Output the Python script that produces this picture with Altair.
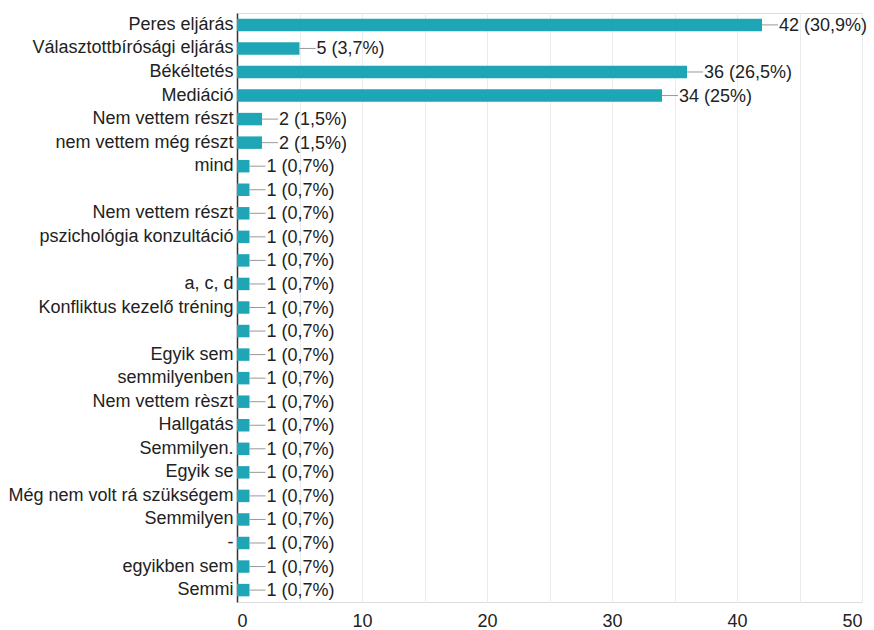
import json
import altair as alt
import pandas as pd

labels = [
    "Peres eljárás", "Választottbírósági eljárás", "Békéltetés", "Mediáció",
    "Nem vettem részt", "nem vettem még részt", "mind", "", "Nem vettem részt",
    "pszichológia konzultáció", "", "a, c, d", "Konfliktus kezelő tréning", "",
    "Egyik sem", "semmilyenben", "Nem vettem rèszt", "Hallgatás", "Semmilyen.",
    "Egyik se", "Még nem volt rá szükségem", "Semmilyen", "-", "egyikben sem", "Semmi",
]
counts = [42, 5, 36, 34, 2, 2, 1, 1, 1, 1, 1, 1, 1, 1, 1, 1, 1, 1, 1, 1, 1, 1, 1, 1, 1]
percents = ["30,9%", "3,7%", "26,5%", "25%", "1,5%", "1,5%"] + ["0,7%"] * 19

df = pd.DataFrame({
    "idx": list(range(len(labels))),
    "count": counts,
    "txt": [f"{c} ({p})" for c, p in zip(counts, percents)],
})

FONT = "Liberation Sans"
FS = 18
label_expr = json.dumps(labels, ensure_ascii=False) + "[datum.value]"

y_enc = alt.Y(
    "idx:O",
    scale=alt.Scale(paddingInner=0.47, paddingOuter=0.24),
    axis=alt.Axis(
        title=None, labelExpr=label_expr, ticks=False, domain=True,
        domainColor="#333333", domainWidth=1.5, labelPadding=4,
        labelFontSize=FS, labelFont=FONT, labelColor="#222222", labelLimit=300,
    ),
)
x_enc = alt.X(
    "count:Q",
    scale=alt.Scale(domain=[0, 50], nice=False),
    axis=alt.Axis(
        title=None, values=list(range(0, 51, 5)),
        labelExpr="datum.value % 10 == 0 ? datum.label : ''",
        ticks=False, domain=False, grid=True, gridColor="#ebebeb",
        labelPadding=10, labelFontSize=FS, labelFont=FONT, labelColor="#222222",
    ),
)

bars = alt.Chart(df).mark_bar(color="#1ea6b7").encode(x=x_enc, y=y_enc)
conn = alt.Chart(df).mark_rule(color="#999999", strokeWidth=1, x2Offset=16).encode(
    x="count:Q", x2="count:Q", y=alt.Y("idx:O")
)
txt = alt.Chart(df).mark_text(
    align="left", baseline="middle", dx=17, dy=1, fontSize=FS, font=FONT, color="#222222"
).encode(x="count:Q", y=alt.Y("idx:O"), text="txt:N")

chart = (
    alt.layer(bars, conn, txt)
    .properties(
        width=625, height=589,
        autosize=alt.AutoSizeParams(type="none"),
        padding={"left": 237, "top": 13, "right": 12, "bottom": 28},
    )
    .configure_view(stroke="#ebebeb")
    .configure(background="white")
)

chart.save("out.html", embed_options={"renderer": "svg", "actions": False})
